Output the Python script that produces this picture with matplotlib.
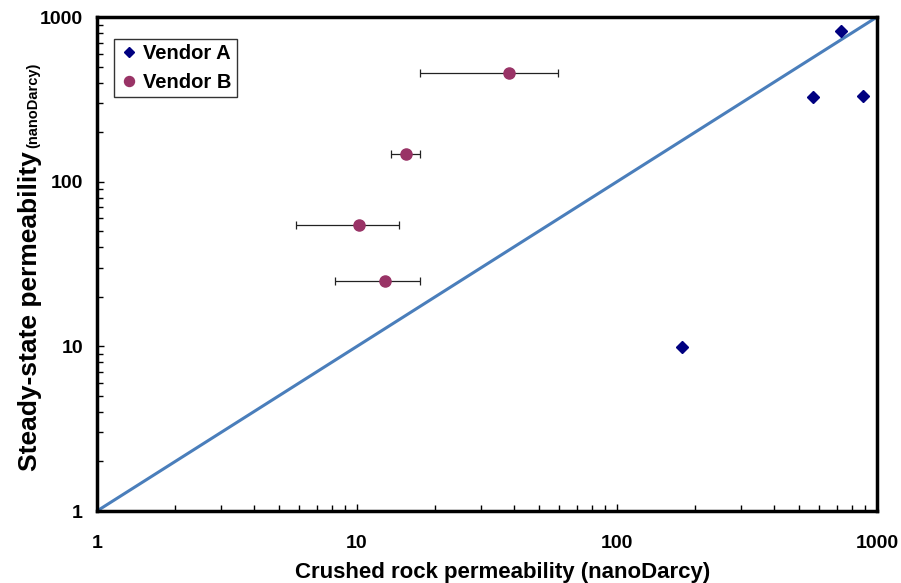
import numpy as np
import matplotlib
matplotlib.use('Agg')
import matplotlib.pyplot as plt
from matplotlib.ticker import LogLocator, FixedLocator, NullFormatter

plt.rcParams['font.family'] = ['Liberation Sans', 'DejaVu Sans']
plt.rcParams['font.weight'] = 'bold'

# vendor A (no error bars)
a_crushed = [727, 567, 884, 178]
a_steady = [821, 326, 331, 9.9]

# vendor B, with min / max of crushed rock range
b_crushed = [38.3, 15.4, 10.15, 12.8]
b_steady = [458, 147, 54.3, 24.9]
b_low = [17.4, 13.5, 5.83, 8.26]
b_high = [59.4, 17.4, 14.5, 17.4]

ticks = [1, 10, 100, 1000]
tick_labels = ['1', '10', '100', '1000']

W, H = 901, 583
fig = plt.figure(figsize=(W / 100, H / 100), dpi=100)
ax = fig.add_axes([97 / W, 1 - 511 / H, 780 / W, 494 / H])

# 1:1 line
ax.plot([1, 1000], [1, 1000], color='#4A7EBB', lw=2.2, zorder=2)

xerr = [np.array(b_crushed) - np.array(b_low), np.array(b_high) - np.array(b_crushed)]
ax.errorbar(b_crushed, b_steady, xerr=xerr, fmt='none', ecolor='#222222',
            elinewidth=0.9, capsize=3, capthick=0.9, zorder=3)

ax.plot(a_crushed, a_steady, 'D', color='#000080', ms=6, ls='none',
        label='Vendor A', zorder=4)
ax.plot(b_crushed, b_steady, 'o', color='#993366', ms=8, ls='none',
        label='Vendor B', zorder=4)

ax.set_xscale('log')
ax.set_yscale('log')
ax.set_xlim(1, 1000)
ax.set_ylim(1, 1000)

ax.xaxis.set_major_locator(FixedLocator(ticks))
ax.yaxis.set_major_locator(FixedLocator(ticks))
ax.set_xticklabels(tick_labels)
ax.set_yticklabels(tick_labels)
ax.xaxis.set_minor_locator(LogLocator(base=10, subs=np.arange(2, 10)))
ax.yaxis.set_minor_locator(LogLocator(base=10, subs=np.arange(2, 10)))
ax.xaxis.set_minor_formatter(NullFormatter())
ax.yaxis.set_minor_formatter(NullFormatter())
ax.tick_params(which='both', direction='in', width=1, labelsize=14)
ax.tick_params(which='major', length=5)
ax.tick_params(which='minor', length=4)
ax.tick_params(axis='x', pad=17)
ax.tick_params(axis='y', pad=10)

for sp in ax.spines.values():
    sp.set_linewidth(2.5)

ax.set_xlabel('Crushed rock permeability (nanoDarcy)', fontsize=16,
              fontweight='bold')
ax.xaxis.set_label_coords(0.52, -0.103)

# y label in two sizes, sharing one baseline
ylab = fig.text(37 / W, 1 - 471 / H, 'Steady-state permeability', rotation=90,
                rotation_mode='anchor', ha='left', va='baseline',
                fontsize=19, fontweight='bold')
fig.canvas.draw()
bb = ylab.get_window_extent().transformed(fig.transFigure.inverted())
fig.text(37 / W, bb.y1 + 3 / H, '(nanoDarcy)', rotation=90,
         rotation_mode='anchor', ha='left', va='baseline',
         fontsize=10.5, fontweight='bold')

leg = ax.legend(loc='upper left', bbox_to_anchor=(17 / 780, 1 - 22 / 494),
                fontsize=14.5, frameon=True, fancybox=False, edgecolor='black',
                handlelength=1.0, handletextpad=0.2, borderpad=0.25,
                labelspacing=0.5, borderaxespad=0, markerscale=0.9)
leg.get_frame().set_linewidth(1)

fig.savefig('out.png', dpi=100)
